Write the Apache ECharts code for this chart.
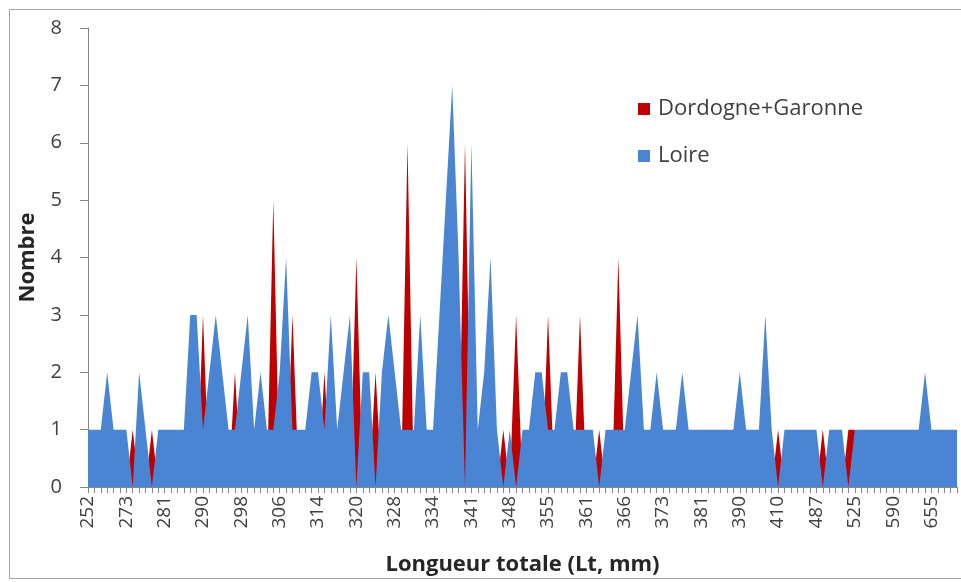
<!DOCTYPE html>
<html>
<head>
<meta charset="utf-8">
<script src="https://cdn.jsdelivr.net/npm/echarts@6/dist/echarts.min.js"></script>
<style>
html,body{margin:0;padding:0;background:#fff;}
#c{width:961px;height:582px;}
</style>
</head>
<body>
<div id="c"></div>
<script>
// Categories: total length (mm); only every 6th is labelled on the axis
const categories = [
 '252','255','259','263','266','270',
 '273','274','276','277','278','280',
 '281','283','284','285','287','288',
 '290','291','293','294','295','297',
 '298','299','301','302','303','305',
 '306','308','309','310','311','312',
 '314','315','316','317','318','319',
 '320','321','322','324','325','326',
 '328','329','330','331','332','333',
 '334','335','336','337','338','339',
 '341','342','343','344','345','346',
 '348','349','350','351','352','353',
 '355','356','357','358','359','360',
 '361','362','363','364','365','365',
 '366','367','368','369','370','371',
 '373','374','375','377','378','380',
 '381','382','384','385','387','388',
 '390','393','396','400','403','406',
 '410','420','435','450','465','475',
 '487','492','500','507','514','520',
 '525','535','545','560','570','580',
 '590','600','610','625','635','645',
 '655','670','700','730','770'
];

// Loire counts
const loire = [
 1,1,1,2,1,1,
 1,0,2,1,0,1,
 1,1,1,1,3,3,
 1,2,3,2,1,1,
 2,3,1,2,1,1,
 2,4,1,1,1,2,
 2,1,3,1,2,3,
 0,2,2,0,2,3,
 2,1,1,1,3,1,
 1,3,5,7,4,0,
 6,1,2,4,1,0,
 1,0,1,1,2,2,
 1,1,2,2,1,1,
 1,1,0,1,1,1,
 1,2,3,1,1,2,
 1,1,1,2,1,1,
 1,1,1,1,1,1,
 2,1,1,1,3,1,
 0,1,1,1,1,1,
 1,0,1,1,1,0,
 1,1,1,1,1,1,
 1,1,1,1,1,2,
 1,1,1,1,1
];

// Dordogne+Garonne counts
const dordogneGaronne = [
 0,0,0,0,0,0,
 0,1,0,0,1,0,
 0,0,0,0,0,0,
 3,0,0,0,0,2,
 0,0,0,0,0,5,
 0,0,3,0,0,0,
 0,2,0,0,0,0,
 4,0,0,2,0,0,
 0,0,6,0,0,0,
 0,0,0,0,0,6,
 0,0,0,0,0,1,
 0,3,0,0,0,0,
 3,0,0,0,0,3,
 0,0,1,0,0,4,
 0,0,0,0,0,0,
 0,0,0,0,0,0,
 0,0,0,0,0,0,
 0,0,0,0,0,0,
 1,0,0,0,0,0,
 0,1,0,0,0,1,
 1,0,0,0,0,0,
 0,0,0,0,0,0,
 0,0,0,0,0
];

const yTicks = [0,1,2,3,4,5,6,7,8];

const chart = echarts.init(document.getElementById('c'), null, {renderer:'canvas'});
const FONT = '"Open Sans", "Liberation Sans", sans-serif';
chart.setOption({
  animation: false,
  backgroundColor: '#ffffff',
  graphic: [{
    type: 'rect',
    shape: {x: 9.5, y: 9.5, width: 970, height: 569},
    style: {fill: 'none', stroke: '#a6a6a6', lineWidth: 1},
    silent: true
  }],
  legend: {
    orient: 'vertical',
    left: 633,
    top: 93,
    itemWidth: 12,
    itemHeight: 12,
    itemGap: 25,
    icon: 'rect',
    textStyle: {fontFamily: FONT, fontSize: 22, color: '#404040', padding: [0,0,0,3]},
    data: ['Dordogne+Garonne', 'Loire']
  },
  grid: {left: 88, right: 4, top: 28, bottom: 95, containLabel: false, outerBoundsMode: 'none'},
  xAxis: {
    type: 'category',
    data: categories,
    boundaryGap: false,
    name: 'Longueur totale (Lt, mm)',
    nameLocation: 'middle',
    nameGap: 67,
    nameTextStyle: {fontFamily: FONT, fontSize: 22, fontWeight: 'bold', color: '#262626'},
    axisLine: {show: true, lineStyle: {color: '#868686', width: 1}},
    axisTick: {show: true, interval: 0, length: 6, lineStyle: {color: '#868686'}},
    axisLabel: {interval: 5, rotate: 90, margin: 9, fontFamily: FONT, fontSize: 19, color: '#404040'},
    splitLine: {show: false}
  },
  yAxis: {
    type: 'value',
    min: 0, max: 8, interval: 1,
    name: 'Nombre',
    nameLocation: 'middle',
    nameRotate: 90,
    nameGap: 49,
    nameTextStyle: {fontFamily: FONT, fontSize: 22, fontWeight: 'bold', color: '#262626'},
    axisLine: {show: true, lineStyle: {color: '#868686', width: 1}},
    axisTick: {show: true, length: 8, lineStyle: {color: '#868686'}},
    axisLabel: {margin: 26, fontFamily: FONT, fontSize: 20, color: '#404040',
      formatter: function(v){ return yTicks.indexOf(v) >= 0 ? String(v) : ''; }},
    splitLine: {show: false}
  },
  series: [
    {
      name: 'Dordogne+Garonne',
      type: 'line',
      data: dordogneGaronne,
      symbol: 'none',
      lineStyle: {width: 0},
      itemStyle: {color: '#C00000'},
      areaStyle: {color: '#C00000', opacity: 1}
    },
    {
      name: 'Loire',
      type: 'line',
      data: loire,
      symbol: 'none',
      lineStyle: {width: 0},
      itemStyle: {color: '#4A85D4'},
      areaStyle: {color: '#4A85D4', opacity: 1}
    }
  ]
});
</script>
</body>
</html>
